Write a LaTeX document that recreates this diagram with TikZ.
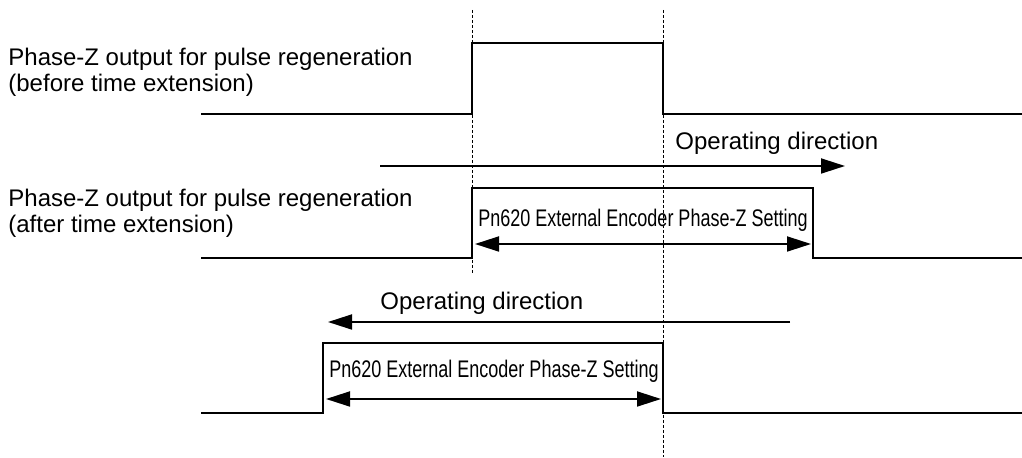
\documentclass[tikz,border=0pt]{standalone}
\usepackage{fontspec}
\setmainfont{Liberation Sans}
\newfontfamily\narrowfont[FakeStretch=0.75]{Liberation Sans}
\usetikzlibrary{arrows.meta, positioning}

\begin{document}
\begin{tikzpicture}[x=0.5pt, y=-0.5pt, >={Triangle[length=12pt, width=7.5pt]}]
  % --- STYLE DEFINITIONS ---
  \tikzstyle{signal}=[line width=1.1pt, line join=miter]
  \tikzstyle{guide}=[line width=0.4pt, dash pattern=on 1.5pt off 1pt]
  \tikzstyle{dirarrow}=[->, line width=0.9pt]
  \tikzstyle{spanarrow}=[<->, line width=0.9pt]
  \tikzstyle{labeltext}=[anchor=base west, inner sep=0pt, align=left, font=\fontsize{12}{13}\selectfont]
  \tikzstyle{dirtext}=[anchor=base west, inner sep=0pt, font=\fontsize{12}{14}\selectfont]
  \tikzstyle{settext}=[anchor=base, inner sep=0pt, font=\narrowfont\fontsize{12}{14}\selectfont]

  \useasboundingbox (0,0) rectangle (1022,458);

  % =================================================================
  % DOTTED GUIDES (edges of the original pulse)
  % =================================================================
  \coordinate (G1top) at (472,10);
  \coordinate (G1bot) at (472,275);
  \coordinate (G2top) at (663,10);
  \coordinate (G2bot) at (663,457);
  \draw[guide] (G1top) -- (G1bot);
  \draw[guide] (G2top) -- (G2bot);

  % =================================================================
  % SIGNAL 1: BEFORE TIME EXTENSION
  % =================================================================
  \node[labeltext] (lab1) at (8,92) {Phase-Z output for pulse regeneration\\(before time extension)};
  \draw[signal] (201,114) -| (472,43) -| (663,114) -- (1022,114);

  % forward direction
  \coordinate (F1) at (380,166);
  \coordinate (F2) at (845,166);
  \draw[dirarrow] (F1) -- (F2);
  \node[dirtext] (dir1) at (675,150) {Operating direction};

  % =================================================================
  % SIGNAL 2: AFTER TIME EXTENSION (forward)
  % =================================================================
  \node[labeltext] (lab2) at (8,233) {Phase-Z output for pulse regeneration\\(after time extension)};
  \draw[signal] (201,258) -| (472,188) -| (813,258) -- (1022,258);
  \node[settext] (set1) at (643,227) {Pn620 External Encoder Phase-Z Setting};
  \coordinate (S1a) at (475,244);
  \coordinate (S1b) at (811,244);
  \draw[spanarrow] (S1a) -- (S1b);

  % =================================================================
  % SIGNAL 3: AFTER TIME EXTENSION (reverse)
  % =================================================================
  \coordinate (R1) at (790,322);
  \coordinate (R2) at (328,322);
  \draw[dirarrow] (R1) -- (R2);
  \node[dirtext] (dir2) at (380,310) {Operating direction};

  \draw[signal] (201,413) -| (323,343) -| (663,413) -- (1022,413);
  \node[settext] (set2) at (494,378) {Pn620 External Encoder Phase-Z Setting};
  \coordinate (S2a) at (326,399);
  \coordinate (S2b) at (661,399);
  \draw[spanarrow] (S2a) -- (S2b);

\end{tikzpicture}
\end{document}
